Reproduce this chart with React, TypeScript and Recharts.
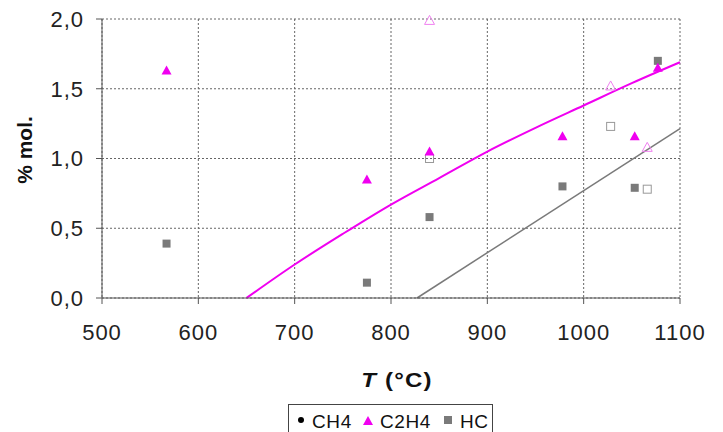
import React from 'react'
import { ComposedChart, Scatter, Line, XAxis, YAxis, CartesianGrid } from 'recharts'

// C2H4 measured (filled triangles)
const c2h4Filled = [
  { x: 567, y: 1.63 },
  { x: 775, y: 0.85 },
  { x: 840, y: 1.05 },
  { x: 978, y: 1.16 },
  { x: 1053, y: 1.16 },
  { x: 1077, y: 1.65 },
]
// C2H4 open triangles
const c2h4Open = [
  { x: 840, y: 1.99 },
  { x: 1028, y: 1.52 },
  { x: 1066, y: 1.08 },
]
// HC measured (filled squares)
const hcFilled = [
  { x: 567, y: 0.39 },
  { x: 775, y: 0.11 },
  { x: 840, y: 0.58 },
  { x: 978, y: 0.8 },
  { x: 1053, y: 0.79 },
  { x: 1077, y: 1.7 },
]
// HC open squares
const hcOpen = [
  { x: 840, y: 1.0 },
  { x: 1028, y: 1.23 },
  { x: 1066, y: 0.78 },
]
// trend curves
const c2h4Trend = [
  { x: 650, y: 0 },
  { x: 700, y: 0.24 },
  { x: 750, y: 0.46 },
  { x: 800, y: 0.67 },
  { x: 850, y: 0.86 },
  { x: 900, y: 1.05 },
  { x: 950, y: 1.22 },
  { x: 1000, y: 1.38 },
  { x: 1050, y: 1.54 },
  { x: 1100, y: 1.69 },
]
const hcTrend = [
  { x: 827, y: 0 },
  { x: 1100, y: 1.215 },
]

const xTicks = [500, 600, 700, 800, 900, 1000, 1100]
const yTicks = [0, 0.5, 1, 1.5, 2]
const legendNames = ['CH4', 'C2H4', 'HC']

const MAGENTA = '#f000f0'
const GREY = '#7a7a7a'
const FONT = 'Liberation Sans, Arial, sans-serif'

const FilledTri = (p: any) => (
  <polygon points={`${p.cx},${p.cy - 5} ${p.cx - 5},${p.cy + 4} ${p.cx + 5},${p.cy + 4}`} fill={MAGENTA} />
)
const OpenTri = (p: any) => (
  <polygon points={`${p.cx},${p.cy - 5} ${p.cx - 5},${p.cy + 4} ${p.cx + 5},${p.cy + 4}`} fill="none" stroke="#f080f0" strokeWidth={1} />
)
const FilledSq = (p: any) => <rect x={p.cx - 4} y={p.cy - 4} width={8} height={8} fill={GREY} />
const OpenSq = (p: any) => <rect x={p.cx - 4} y={p.cy - 4} width={8} height={8} fill="none" stroke="#999" strokeWidth={1} />

const fmt = (v: number) => v.toFixed(1).replace('.', ',')

const tickStyle = { fontSize: 22, fill: '#222', fontFamily: FONT, letterSpacing: 1 }

export default function App() {
  return (
    <div style={{ position: 'absolute', left: 0, top: 0, width: 723, height: 432, background: '#fff', fontFamily: FONT, overflow: 'hidden' }}>
      <ComposedChart width={723} height={432} margin={{ top: 19, right: 43, bottom: 74, left: 0 }}>
        <CartesianGrid stroke="#666" strokeDasharray="2 2" />
        <XAxis
          type="number"
          dataKey="x"
          domain={[500, 1100]}
          ticks={xTicks}
          height={60}
          tickSize={6}
          tickMargin={20}
          stroke="#555"
          tick={tickStyle}
        />
        <YAxis
          type="number"
          dataKey="y"
          domain={[0, 2]}
          ticks={yTicks}
          width={102}
          tickSize={6}
          tickMargin={12}
          stroke="#555"
          tickFormatter={fmt}
          tick={tickStyle}
        />
        <Line data={c2h4Trend} dataKey="y" type="monotone" stroke={MAGENTA} strokeWidth={2} dot={false} isAnimationActive={false} />
        <Line data={hcTrend} dataKey="y" type="linear" stroke={GREY} strokeWidth={1.5} dot={false} isAnimationActive={false} />
        <Scatter data={hcOpen} dataKey="y" shape={OpenSq} isAnimationActive={false} />
        <Scatter data={hcFilled} dataKey="y" shape={FilledSq} isAnimationActive={false} />
        <Scatter data={c2h4Open} dataKey="y" shape={OpenTri} isAnimationActive={false} />
        <Scatter data={c2h4Filled} dataKey="y" shape={FilledTri} isAnimationActive={false} />
      </ComposedChart>
      <div style={{ position: 'absolute', left: 397, top: 379.5, transform: 'translate(-50%, -50%) scaleX(1.2)', fontSize: 20, letterSpacing: 1, fontWeight: 'bold', color: '#111', whiteSpace: 'nowrap' }}>
        <i>T</i> (°C)
      </div>
      <div style={{ position: 'absolute', left: 25, top: 150, transform: 'translate(-50%, -50%) rotate(-90deg)', fontSize: 21, fontWeight: 'bold', color: '#111', whiteSpace: 'nowrap' }}>
        % mol.
      </div>
      <div style={{ position: 'absolute', left: 288, top: 404, width: 205, height: 32, border: '1px solid #444', boxSizing: 'border-box' }} />
      <svg style={{ position: 'absolute', left: 298, top: 417 }} width="6" height="6"><circle cx="3" cy="3" r="3" fill="#000" /></svg>
      <svg style={{ position: 'absolute', left: 363, top: 416 }} width="10" height="9"><polygon points="5,0 0,9 10,9" fill={MAGENTA} /></svg>
      <svg style={{ position: 'absolute', left: 444, top: 416 }} width="8" height="8"><rect width="8" height="8" fill={GREY} /></svg>
      {legendNames.map((n, i) => (
        <div
          key={n}
          style={{ position: 'absolute', left: [312, 380, 460][i], top: 420.5, transform: 'translateY(-50%)', fontSize: 19, letterSpacing: 0.6, color: '#111', whiteSpace: 'nowrap', lineHeight: 1 }}
        >
          {n}
        </div>
      ))}
    </div>
  )
}
